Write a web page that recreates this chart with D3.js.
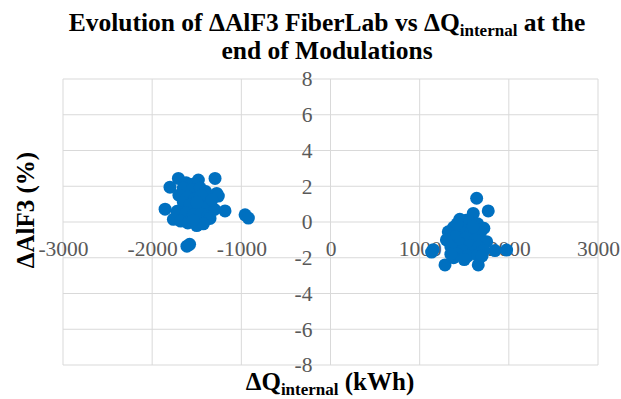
<!DOCTYPE html>
<html>
<head>
<meta charset="utf-8">
<script src="https://cdn.jsdelivr.net/npm/d3@7"></script>
<style>
  html, body { margin: 0; padding: 0; background: #fff; }
  svg { display: block; }
  svg text { font-family: "Liberation Serif", "Times New Roman", serif; }
</style>
</head>
<body>
<svg id="chart" width="621" height="399"></svg>
<script>
// ΔQinternal (kWh) vs ΔAlF3 (%) — two groups of modulations
const groupNeg = [
  [-1706, 2.44], [-1620, 2.2], [-1560, 2.1], [-1482, 2.35], [-1295, 2.44],
  [-1800, 1.95], [-1650, 1.9], [-1550, 1.8], [-1460, 1.9], [-1400, 1.7],
  [-1276, 1.6], [-1258, 1.45], [-1700, 1.5], [-1600, 1.4], [-1520, 1.3],
  [-1420, 1.2], [-1350, 1.0], [-1650, 1.1], [-1580, 0.95], [-1480, 0.9],
  [-1400, 0.8], [-1300, 0.7], [-1183, 0.62], [-1855, 0.72], [-1720, 0.6],
  [-1620, 0.5], [-1540, 0.4], [-1450, 0.45], [-1380, 0.3], [-1351, 0.2],
  [-1762, 0.15], [-1680, 0.05], [-1600, -0.05], [-1500, -0.2], [-1426, -0.1],
  [-1540, 0.1], [-958, 0.4], [-921, 0.22], [-1610, -1.35], [-1580, -1.25],
  [-1450, 1.5], [-1500, 1.1], [-1330, 1.25]
];
const groupPos = [
  [1639, 1.33], [1769, 0.62], [1601, 0.48], [1520, 0.1], [1450, 0.15],
  [1560, 0.0], [1650, -0.1], [1720, -0.35], [1380, -0.3], [1321, -0.55],
  [1480, -0.4], [1580, -0.5], [1680, -0.6], [1400, -0.8], [1520, -0.9],
  [1620, -1.0], [1300, -1.0], [1751, -1.1], [1450, -1.2], [1560, -1.3],
  [1660, -1.4], [1350, -1.4], [1152, -1.55], [1134, -1.68], [1480, -1.6],
  [1600, -1.7], [1420, -1.8], [1540, -1.9], [1650, -1.85], [1844, -1.6],
  [1975, -1.57], [1284, -2.4], [1657, -2.4], [1380, -2.0], [1500, -2.1],
  [1720, -1.6], [1700, -1.9], [1420, -0.1], [1600, -0.25], [1350, -1.8]
];
const xTicks = [-3000, -2000, -1000, 0, 1000, 2000, 3000];
const yTicks = [-8, -6, -4, -2, 0, 2, 4, 6, 8];

const svg = d3.select("#chart");
const x = d3.scaleLinear().domain([-3000, 3000]).range([63, 598]);
const y = d3.scaleLinear().domain([-8, 8]).range([365, 79]);

const gridColor = "#d9d9d9";
const tickColor = "#595959";
const fmt = d => String(d); // plain hyphen-minus, no thousands separator

// gridlines
const grid = svg.append("g");
grid.selectAll("line.v").data(xTicks).join("line")
  .attr("x1", d => x(d)).attr("x2", d => x(d))
  .attr("y1", y(8)).attr("y2", y(-8))
  .attr("stroke", gridColor).attr("stroke-width", 1);
grid.selectAll("line.h").data(yTicks).join("line")
  .attr("x1", x(-3000)).attr("x2", x(3000))
  .attr("y1", d => y(d)).attr("y2", d => y(d))
  .attr("stroke", gridColor).attr("stroke-width", 1);

// axes crossing at the origin, labels only
const xAxis = d3.axisBottom(x).tickValues(xTicks).tickFormat(fmt).tickSize(0).tickPadding(0);
const gx = svg.append("g").attr("transform", `translate(0,${y(0)})`).call(xAxis)
  .attr("font-family", null).attr("font-size", 21.5);
gx.select(".domain").remove();
gx.selectAll("text").attr("fill", tickColor).attr("y", 27).attr("dy", "0.32em");

const yAxis = d3.axisLeft(y).tickValues(yTicks).tickFormat(fmt).tickSize(0).tickPadding(0);
const gy = svg.append("g").attr("transform", `translate(${x(0) - 18},0)`).call(yAxis)
  .attr("font-family", null).attr("font-size", 21.5);
gy.select(".domain").remove();
gy.selectAll("text").attr("fill", tickColor);

// points
const pts = groupNeg.concat(groupPos);
svg.append("g").selectAll("circle").data(pts).join("circle")
  .attr("cx", d => x(d[0])).attr("cy", d => y(d[1]))
  .attr("r", 6.5).attr("fill", "#0070C0");

// title
const title = svg.append("text").attr("text-anchor", "middle")
  .attr("font-weight", "bold").attr("font-size", 25.5).attr("fill", "#000");
const t1 = title.append("tspan").attr("x", 327).attr("y", 31);
t1.append("tspan").text("Evolution of \u0394AlF3 FiberLab vs \u0394Q");
t1.append("tspan").text("internal").attr("font-size", 17).attr("dy", 5);
t1.append("tspan").text(" at the").attr("dy", -5);
title.append("tspan").attr("x", 327).attr("y", 59).text("end of Modulations");

// x-axis title
const xt = svg.append("text").attr("text-anchor", "middle").attr("x", 330).attr("y", 390)
  .attr("font-weight", "bold").attr("font-size", 25);
xt.append("tspan").text("\u0394Q");
xt.append("tspan").text("internal").attr("font-size", 17).attr("dy", 5);
xt.append("tspan").text(" (kWh)").attr("dy", -5);

// y-axis title
svg.append("text").attr("text-anchor", "middle")
  .attr("transform", "translate(34,210) rotate(-90)")
  .attr("font-weight", "bold").attr("font-size", 25)
  .text("\u0394AlF3 (%)");
</script>
</body>
</html>
